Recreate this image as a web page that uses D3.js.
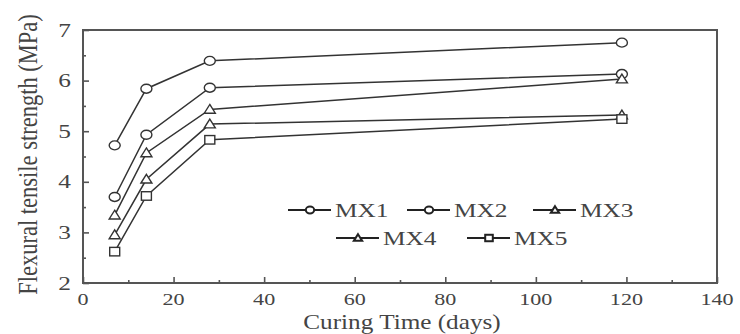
<!DOCTYPE html>
<html>
<head>
<meta charset="utf-8">
<script src="https://cdn.jsdelivr.net/npm/d3@7"></script>
<style>
  body { margin: 0; background: #fff; }
  text { font-family: "Liberation Serif", "Times New Roman", serif; fill: #444; }
</style>
</head>
<body>
<svg id="chart" width="740" height="334"></svg>
<script>
// curing time in days
const days = [7, 14, 28, 119];

// flexural tensile strength (MPa) per mix
const MX1 = [4.72, 5.84, 6.39, 6.75];
const MX2 = [3.70, 4.93, 5.86, 6.13];
const MX3 = [3.34, 4.57, 5.43, 6.03];
const MX4 = [2.95, 4.05, 5.14, 5.32];
const MX5 = [2.62, 3.72, 4.83, 5.24];

const seriesNames = ['MX1', 'MX2', 'MX3', 'MX4', 'MX5'];
const seriesValues = [MX1, MX2, MX3, MX4, MX5];
const markers = ['circle', 'circle', 'triangle', 'triangle', 'square'];

const xTicks = [0, 20, 40, 60, 80, 100, 120, 140];
const yTicks = [2, 3, 4, 5, 6, 7];

const W = 740, H = 334;
const margin = { top: 30, right: 23, bottom: 51, left: 83 };
const SX = 1.3; // the picture is stretched sideways, so is the text

const svg = d3.select('#chart');
const g = svg.append('g').attr('transform', `translate(${margin.left},${margin.top})`);
const w = W - margin.left - margin.right;
const h = H - margin.top - margin.bottom;

const x = d3.scaleLinear().domain([0, 140]).range([0, w]);
const y = d3.scaleLinear().domain([2, 7]).range([h, 0]);

const axisColor = '#555';
const lineColor = '#333';

// frame
g.append('rect')
  .attr('width', w).attr('height', h)
  .attr('fill', 'none').attr('stroke', axisColor).attr('stroke-width', 2);

// x axis: ticks pointing in
const xAxis = g.append('g').attr('transform', `translate(0,${h})`)
  .call(d3.axisBottom(x).tickValues(xTicks).tickSize(-6).tickFormat(''));
const xMinor = g.append('g').attr('transform', `translate(0,${h})`)
  .call(d3.axisBottom(x).tickValues(d3.range(10, 140, 20)).tickSize(-3).tickFormat(''));
const yAxis = g.append('g')
  .call(d3.axisLeft(y).tickValues(yTicks).tickSize(-6).tickFormat(''));
const yMinor = g.append('g')
  .call(d3.axisLeft(y).tickValues(d3.range(2.5, 7, 1)).tickSize(-3).tickFormat(''));
[xAxis, xMinor, yAxis, yMinor].forEach(a => {
  a.select('.domain').remove();
  a.selectAll('line').attr('stroke', axisColor).attr('stroke-width', 1.6);
});

// tick labels
g.selectAll('.xlab').data(xTicks).enter().append('text')
  .attr('transform', d => `translate(${x(d)},${h + 22}) scale(${SX},1)`)
  .attr('text-anchor', 'middle')
  .attr('font-size', 17)
  .text(d => d);
g.selectAll('.ylab').data(yTicks).enter().append('text')
  .attr('transform', d => `translate(-12,${y(d) + 6.5}) scale(${SX},1)`)
  .attr('text-anchor', 'end')
  .attr('font-size', 19.5)
  .text(d => d);

// axis titles
g.append('text')
  .attr('transform', `translate(${w / 2 + 2},${h + 46}) scale(1.2,1)`)
  .attr('text-anchor', 'middle')
  .attr('font-size', 21)
  .text('Curing Time (days)');
g.append('text')
  .attr('transform', `translate(${-margin.left + 37},${h / 2 - 2}) rotate(-90) scale(1,1.2)`)
  .attr('text-anchor', 'middle')
  .attr('font-size', 22.5)
  .text('Flexural tensile strength (MPa)');

// marker drawing
function drawMarker(sel, type, r) {
  if (type === 'circle') {
    sel.append('ellipse').attr('rx', r * 1.1).attr('ry', r * 0.9);
  } else if (type === 'triangle') {
    sel.append('path').attr('d', `M0,${-r}L${r * 1.1},${r * 0.75}L${-r * 1.1},${r * 0.75}Z`);
  } else {
    sel.append('rect').attr('x', -r).attr('y', -r * 0.85).attr('width', 2 * r).attr('height', 1.7 * r);
  }
}

const line = d3.line().x(d => x(d[0])).y(d => y(d[1]));

seriesValues.forEach((vals, i) => {
  const pts = days.map((d, j) => [d, vals[j]]);
  g.append('path')
    .datum(pts)
    .attr('d', line)
    .attr('fill', 'none')
    .attr('stroke', lineColor)
    .attr('stroke-width', 1.5);
  g.selectAll(null).data(pts).enter().append('g')
    .attr('transform', d => `translate(${x(d[0])},${y(d[1])})`)
    .each(function () {
      drawMarker(d3.select(this), markers[i], 5);
    })
    .selectAll('*')
    .attr('fill', '#fff').attr('stroke', lineColor).attr('stroke-width', 1.4);
});

// legend
const legendPos = [
  [205, 180], [324, 180], [450, 180],
  [253, 208], [384, 208]
];
seriesNames.forEach((name, i) => {
  const lg = g.append('g').attr('transform', `translate(${legendPos[i][0]},${legendPos[i][1]})`);
  lg.append('line').attr('x1', 0).attr('x2', 43)
    .attr('stroke', '#222').attr('stroke-width', 2.2);
  const m = lg.append('g').attr('transform', 'translate(22,0)');
  drawMarker(m, markers[i], 3.8);
  m.selectAll('*').attr('fill', '#fff').attr('stroke', '#222').attr('stroke-width', 2);
  lg.append('text')
    .attr('transform', `translate(47,7) scale(${SX},1)`)
    .attr('font-size', 19.5)
    .text(name);
});
</script>
</body>
</html>
